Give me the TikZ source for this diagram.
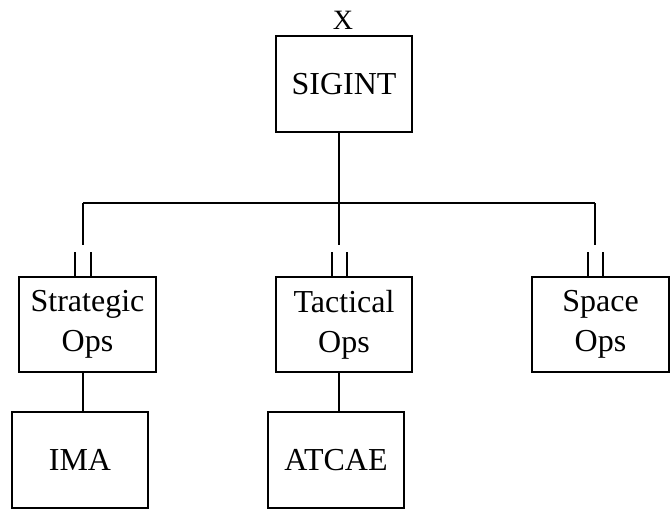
\documentclass[tikz,border=0pt]{standalone}
\usepackage{fontspec}
\setmainfont{Liberation Serif}
\begin{document}
\begin{tikzpicture}[x=1pt,y=-1pt,
  box/.style={draw, line width=1.2pt, inner sep=0pt, outer sep=0pt, align=center,
    font=\fontsize{32}{40}\selectfont},
  conn/.style={line width=1.2pt}]
\useasboundingbox (0,0) rectangle (670,517);
\node[font=\fontsize{28}{30}\selectfont, inner sep=0pt] (xl) at (343,20) {X};
\node[box, minimum width=136pt, minimum height=96pt] (sig) at (344,84) {SIGINT};
\node[box, minimum width=137pt, minimum height=95pt] (strat) at (87.5,324.5) {Strategic\\Ops};
\node[box, minimum width=136pt, minimum height=95pt] (tac) at (344,324.5) {Tactical\\Ops};
\node[box, minimum width=137pt, minimum height=95pt] (space) at (600.5,324.5) {Space\\Ops};
\node[box, minimum width=136pt, minimum height=96pt] (ima) at (80,460) {IMA};
\node[box, minimum width=136pt, minimum height=96pt] (atc) at (336,460) {ATCAE};
\coordinate (hl) at (83,203);
\coordinate (j) at (339,203);
\coordinate (hr) at (595,203);
\draw[conn] (sig.south -| j) -- (j) -- ++(0,42);
\draw[conn] (hl) -- (hr);
\draw[conn] (hl) -- ++(0,42);
\draw[conn] (hr) -- ++(0,42);
% double stubs
\draw[conn] (strat.north -| 75,0) -- ++(0,-25);
\draw[conn] (strat.north -| 91,0) -- ++(0,-25);
\draw[conn] (tac.north -| 332,0) -- ++(0,-25);
\draw[conn] (tac.north -| 347,0) -- ++(0,-25);
\draw[conn] (space.north -| 588,0) -- ++(0,-25);
\draw[conn] (space.north -| 603,0) -- ++(0,-25);
% down connectors
\draw[conn] (strat.south -| hl) -- (ima.north -| hl);
\draw[conn] (tac.south -| j) -- (atc.north -| j);
\end{tikzpicture}
\end{document}
